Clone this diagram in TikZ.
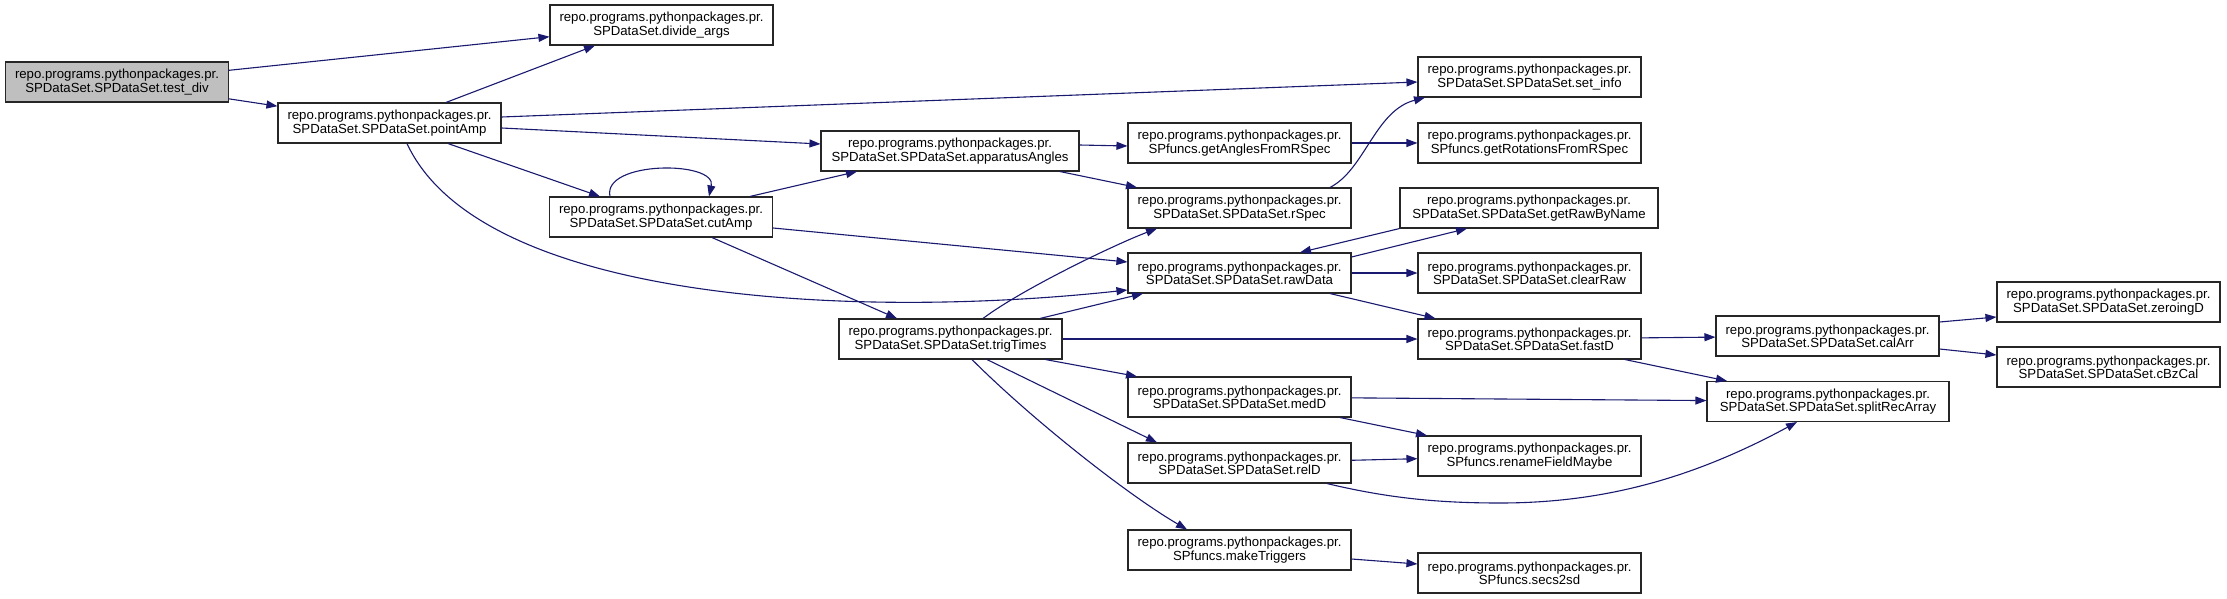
\documentclass[tikz,border=0pt]{standalone}
\usepackage{fontspec}
\setmainfont{Liberation Sans}
\usepackage{tikz}
\usetikzlibrary{arrows.meta}
\definecolor{edgeblue}{RGB}{25, 25, 112}
\definecolor{rootgray}{RGB}{191, 191, 191}

\begin{document}
\begin{tikzpicture}[x=1pt, y=-1pt,
    fn/.style={draw=black!85, line width=1.1pt, fill=white, minimum width=223pt, minimum height=40pt, inner sep=0pt, align=center, font=\fontsize{13.2}{13.4}\selectfont},
    call/.style={draw=edgeblue, line width=1.1pt, -{Triangle[length=11pt,width=8pt]}}]
    \fill[white] (0,0) rectangle (2227,599);
    \useasboundingbox (0,0) rectangle (2227,599);
    % functions
    \node (testdiv) at (117,82) [fn, fill=rootgray] {repo.programs.pythonpackages.pr.\\SPDataSet.SPDataSet.test\_div};
    \node (pointamp) at (389.5,123) [fn] {repo.programs.pythonpackages.pr.\\SPDataSet.SPDataSet.pointAmp};
    \node (divargs) at (661.5,25) [fn] {repo.programs.pythonpackages.pr.\\SPDataSet.divide\_args};
    \node (cutamp) at (661,217) [fn] {repo.programs.pythonpackages.pr.\\SPDataSet.SPDataSet.cutAmp};
    \node (appangles) at (950,151) [fn, minimum width=258pt] {repo.programs.pythonpackages.pr.\\SPDataSet.SPDataSet.apparatusAngles};
    \node (trigtimes) at (950.5,339) [fn] {repo.programs.pythonpackages.pr.\\SPDataSet.SPDataSet.trigTimes};
    \node (getangles) at (1239.5,143) [fn] {repo.programs.pythonpackages.pr.\\SPfuncs.getAnglesFromRSpec};
    \node (rspec) at (1239.5,208) [fn] {repo.programs.pythonpackages.pr.\\SPDataSet.SPDataSet.rSpec};
    \node (rawdata) at (1239.5,273) [fn] {repo.programs.pythonpackages.pr.\\SPDataSet.SPDataSet.rawData};
    \node (medd) at (1239.5,397) [fn] {repo.programs.pythonpackages.pr.\\SPDataSet.SPDataSet.medD};
    \node (reld) at (1239.5,463) [fn] {repo.programs.pythonpackages.pr.\\SPDataSet.SPDataSet.relD};
    \node (maketrig) at (1239.5,550) [fn] {repo.programs.pythonpackages.pr.\\SPfuncs.makeTriggers};
    \node (setinfo) at (1529.5,77) [fn] {repo.programs.pythonpackages.pr.\\SPDataSet.SPDataSet.set\_info};
    \node (getrot) at (1529.5,143) [fn] {repo.programs.pythonpackages.pr.\\SPfuncs.getRotationsFromRSpec};
    \node (getraw) at (1529,208) [fn, minimum width=258pt] {repo.programs.pythonpackages.pr.\\SPDataSet.SPDataSet.getRawByName};
    \node (clearraw) at (1529.5,273) [fn] {repo.programs.pythonpackages.pr.\\SPDataSet.SPDataSet.clearRaw};
    \node (fastd) at (1529.5,339) [fn] {repo.programs.pythonpackages.pr.\\SPDataSet.SPDataSet.fastD};
    \node (rename) at (1529.5,456) [fn] {repo.programs.pythonpackages.pr.\\SPfuncs.renameFieldMaybe};
    \node (secs) at (1529.5,573) [fn] {repo.programs.pythonpackages.pr.\\SPfuncs.secs2sd};
    \node (calarr) at (1827.5,336) [fn] {repo.programs.pythonpackages.pr.\\SPDataSet.SPDataSet.calArr};
    \node (splitrec) at (1828,401.5) [fn, minimum width=242pt] {repo.programs.pythonpackages.pr.\\SPDataSet.SPDataSet.splitRecArray};
    \node (zeroing) at (2108.5,302) [fn] {repo.programs.pythonpackages.pr.\\SPDataSet.SPDataSet.zeroingD};
    \node (cbzcal) at (2108.5,367) [fn] {repo.programs.pythonpackages.pr.\\SPDataSet.SPDataSet.cBzCal};
    % calls
    \draw[call] (testdiv) -- (divargs);
    \draw[call] (testdiv) -- (pointamp);
    \draw[call] ([xshift=56.5pt]pointamp.north) -- ([xshift=-66.5pt]divargs.south);
    \draw[call] ([yshift=6pt]pointamp.east) -- ([yshift=-5pt]setinfo.west);
    \draw[call] ([yshift=-5pt]pointamp.east) -- ([yshift=7pt]appangles.west);
    \draw[call] ([xshift=58.5pt]pointamp.south) -- ([xshift=-61pt]cutamp.north);
    \draw[call] ([xshift=17.5pt]pointamp.south) .. controls +(73,157) and +(-278,30) .. ([yshift=-17pt]rawdata.west);
    \draw[call] ([xshift=-51pt]cutamp.north) .. controls +(-8,-36) and +(8,-36) .. ([xshift=48pt]cutamp.north);
    \draw[call] ([xshift=89pt]cutamp.north) -- ([xshift=-93pt]appangles.south);
    \draw[call] ([yshift=-11pt]cutamp.east) -- ([yshift=11pt]rawdata.west);
    \draw[call] ([xshift=51pt]cutamp.south) -- ([xshift=-53.5pt]trigtimes.north);
    \draw[call] ([yshift=6pt]appangles.east) -- ([yshift=-3pt]getangles.west);
    \draw[call] ([xshift=110pt]appangles.south) -- ([xshift=-102.5pt]rspec.north);
    \draw[call] (getangles) -- (getrot);
    \draw[call] ([xshift=90.5pt]rspec.north) .. controls +(35,-18) and +(-50,13) .. ([xshift=-104.5pt]setinfo.south);
    \draw[call] ([yshift=16pt]rawdata.east) -- ([xshift=-62pt]getraw.south);
    \draw[call] (getraw.south west) -- ([xshift=60.5pt]rawdata.north);
    \draw[call] (rawdata) -- (clearraw);
    \draw[call] ([xshift=90.5pt]rawdata.south) -- ([xshift=-94pt]fastd.north);
    \draw[call] ([xshift=32.5pt]trigtimes.north) .. controls +(40,-30) and +(-40,15) .. ([xshift=-82.5pt]rspec.south);
    \draw[call] ([xshift=89.5pt]trigtimes.north) -- ([xshift=-96.5pt]rawdata.south);
    \draw[call] (trigtimes) -- (fastd);
    \draw[call] ([xshift=95pt]trigtimes.south) -- ([xshift=-102.5pt]medd.north);
    \draw[call] ([xshift=36.5pt]trigtimes.south) -- ([xshift=-82.5pt]reld.north);
    \draw[call] ([xshift=21.5pt]trigtimes.south) .. controls +(60,60) and +(-60,-35) .. ([xshift=-52.5pt]maketrig.north);
    \draw[call] (fastd) -- (calarr);
    \draw[call] ([xshift=95.5pt]fastd.south) -- ([xshift=-101pt]splitrec.north);
    \draw[call] (medd) -- (splitrec);
    \draw[call] ([xshift=100.5pt]medd.south) -- ([xshift=-102.5pt]rename.north);
    \draw[call] (reld) -- (rename);
    \draw[call] ([xshift=87.5pt]reld.south) .. controls +(63,15) and +(-60,0) .. (1500,503) .. controls +(100,0) and +(-107,58) .. ([xshift=-31pt]splitrec.south);
    \draw[call] ([yshift=-9pt]maketrig.east) -- ([yshift=9pt]secs.west);
    \draw[call] ([yshift=14pt]calarr.east) -- ([yshift=-15pt]zeroing.west);
    \draw[call] ([yshift=-13pt]calarr.east) -- ([yshift=12pt]cbzcal.west);
\end{tikzpicture}
\end{document}
